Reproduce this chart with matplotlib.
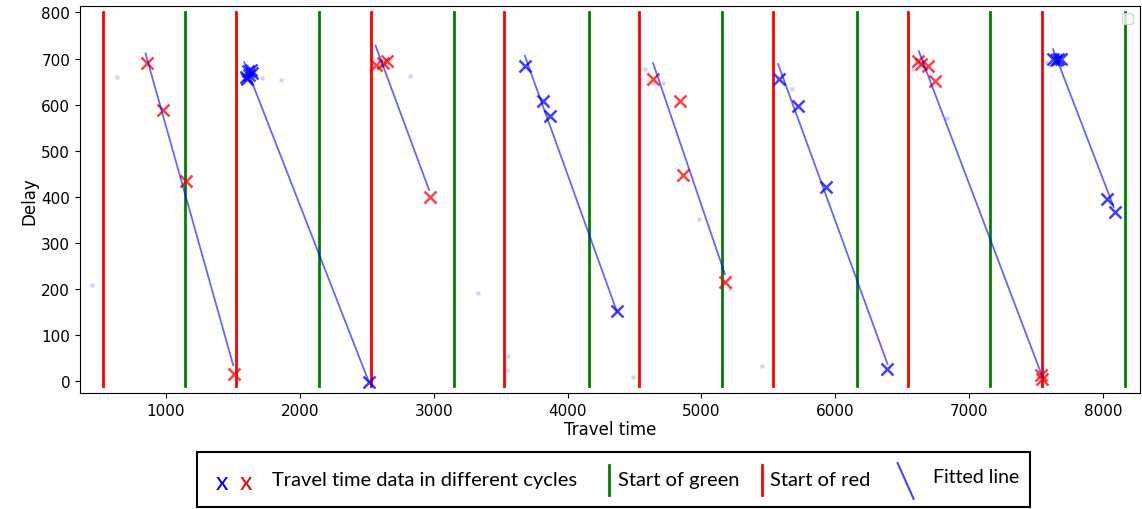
import matplotlib
matplotlib.use("Agg")
import matplotlib.pyplot as plt
from matplotlib.lines import Line2D
from matplotlib.patches import Rectangle

# Signal timing (travel-time axis)
red_starts = [528, 1523, 2531, 3529, 4537, 5534, 6541, 7547]
green_starts = [1144, 2143, 3150, 4157, 5155, 6160, 7159, 8166]

# Travel time samples per cycle
cycle_times = [
    [856, 975, 1147, 1510],
    [1595, 1605, 1612, 1622, 1632, 1645, 2516],
    [2573, 2620, 2648, 2972],
    [3686, 3818, 3866, 4368],
    [4639, 4841, 4863, 5180],
    [5578, 5718, 5927, 6390],
    [6617, 6642, 6692, 6742, 7539, 7542],
    [7630, 7648, 7665, 7685, 8030, 8092],
]
cycle_delays = [
    [690, 588, 435, 17],
    [660, 655, 672, 665, 675, 668, -1],
    [686, 690, 694, 400],
    [683, 607, 575, 152],
    [656, 609, 448, 215],
    [656, 598, 421, 27],
    [695, 688, 684, 652, 15, 6],
    [700, 697, 700, 698, 396, 367],
]
cycle_colors = ["red", "blue", "red", "blue", "red", "blue", "red", "blue"]

# Fitted line end points per cycle
fit_t = [[848, 1503], [1585, 2516], [2566, 2966], [3681, 4368],
         [4639, 5175], [5573, 6390], [6624, 7547], [7627, 8080]]
fit_d = [[711, 35], [692, -1], [728, 415], [706, 152],
         [690, 233], [688, 38], [716, 10], [720, 378]]

# Discarded samples
outlier_t = [450, 632, 1719, 1857, 2825, 3333, 3552, 3547, 4488, 4577, 4639,
             4714, 4984, 5212, 5449, 5673, 6581, 6838, 7577]
outlier_d = [210, 661, 658, 654, 662, 192, 55, 24, 10, 678, 646,
             646, 353, 201, 34, 635, 677, 570, 692]

fig = plt.figure(figsize=(11.42, 5.10), dpi=100)
ax = fig.add_axes([0.070, 0.2275, 0.928, 0.758])

for x in red_starts:
    ax.plot([x, x], [-10, 800], color="red", lw=2)
for x in green_starts:
    ax.plot([x, x], [-10, 800], color="green", lw=2)

ax.plot(outlier_t, outlier_d, "s", color="blue", alpha=0.18, ms=3.5, mec="none")

for t, d, c in zip(cycle_times, cycle_delays, cycle_colors):
    ax.plot(t, d, "x", color=c, alpha=0.75, ms=9, mew=1.8, ls="none")

for t, d in zip(fit_t, fit_d):
    ax.plot(t, d, color="blue", alpha=0.6, lw=1.3)

ax.set_xlim(358, 8274)
ax.set_ylim(-25, 813)
ax.set_xticks(range(1000, 8001, 1000))
ax.set_yticks(range(0, 801, 100))
ax.tick_params(labelsize=11)
ax.set_xlabel("Travel time", fontsize=12, labelpad=2)
ax.set_ylabel("Delay", fontsize=12, labelpad=2)
ax.legend(loc="upper right")

# Legend panel below the axes
fig.add_artist(Rectangle((0.1725, 0.004), 0.7295, 0.108, transform=fig.transFigure,
                         fill=False, ec="black", lw=1.5))
ty = 0.057
lkw = dict(fontsize=14.5, family="Lato", va="center", ha="left")
fig.text(0.189, ty - 0.004, "x", color="blue", **{**lkw, "fontsize": 18})
fig.text(0.210, ty - 0.004, "x", color="red", **{**lkw, "fontsize": 18})
fig.text(0.238, ty, "Travel time data in different cycles", color="black", **lkw)
fig.add_artist(Line2D([0.533, 0.533], [0.028, 0.086], transform=fig.transFigure,
                      color="green", lw=2))
fig.text(0.541, ty, "Start of green", color="black", **lkw)
fig.add_artist(Line2D([0.667, 0.667], [0.028, 0.086], transform=fig.transFigure,
                      color="red", lw=2))
fig.text(0.674, ty, "Start of red", color="black", **lkw)
fig.add_artist(Line2D([0.786, 0.800], [0.090, 0.020], transform=fig.transFigure,
                      color="#4444ff", lw=1.5))
fig.text(0.817, ty + 0.006, "Fitted line", color="black",
         **{**lkw, "fontsize": 14})

fig.savefig("out.png", dpi=100)
